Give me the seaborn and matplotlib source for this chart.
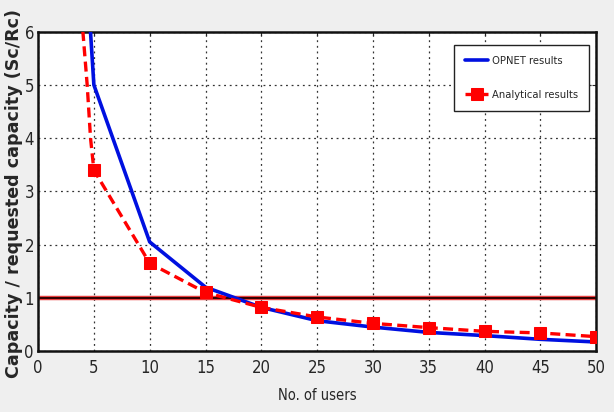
import matplotlib
matplotlib.use("Agg")
import matplotlib.pyplot as plt
import seaborn as sns
import pandas as pd

# OPNET simulation results (capacity / requested capacity)
opnet_users = [4.0, 5, 10, 15, 20, 25, 30, 35, 40, 45, 50]
opnet_ratio = [8.3, 5.0, 2.05, 1.2, 0.82, 0.57, 0.45, 0.35, 0.29, 0.22, 0.17]

# Analytical results; curve points plus marked points every 5 users
analytic_users = [3.9, 4.4, 4.7, 5, 10, 15, 20, 25, 30, 35, 40, 45, 50]
analytic_ratio = [6.3, 5.0, 4.0, 3.4, 1.65, 1.1, 0.82, 0.64, 0.52, 0.44, 0.37, 0.34, 0.27]
marker_users = [5, 10, 15, 20, 25, 30, 35, 40, 45, 50]

x_ticks = list(range(0, 51, 5))
y_ticks = list(range(0, 7))

sns.set_style("white")
plt.rcParams["font.family"] = ["DejaVu Sans"]
plt.rcParams["font.stretch"] = "condensed"

fig = plt.figure(figsize=(6.14, 4.12), dpi=100, facecolor="#efefef")
ax = fig.add_axes([0.062, 0.148, 0.909, 0.775])
ax.set_facecolor("white")

opnet = pd.DataFrame({"users": opnet_users, "ratio": opnet_ratio})
analytic = pd.DataFrame({"users": analytic_users, "ratio": analytic_ratio})

# reference level at ratio = 1
ax.axhline(1, color="#e84040", lw=3.2, zorder=2)
ax.axhline(1, color="#300000", lw=1.4, zorder=2.1)

sns.lineplot(data=opnet, x="users", y="ratio", ax=ax, color="#0010e0", lw=2.6,
             label="OPNET results", zorder=3)
sns.lineplot(data=analytic, x="users", y="ratio", ax=ax, color="#ff0000", lw=2.4,
             linestyle=(0, (3, 1.6)), marker="s", markersize=8, markerfacecolor="#ff0000",
             markeredgecolor="#ff0000",
             markevery=[analytic_users.index(u) for u in marker_users],
             label="Analytical results", zorder=4)

ax.set_xlim(0, 50)
ax.set_ylim(0, 6)
ax.set_xticks(x_ticks)
ax.set_yticks(y_ticks)
ax.tick_params(axis="both", labelsize=12, length=3, direction="in",
               top=True, right=True)
ax.tick_params(axis="x", pad=6)
ax.tick_params(axis="y", pad=3)
ax.grid(True, color="#333333", linestyle=(0, (1.5, 3)), lw=0.9)
for s in ax.spines.values():
    s.set_color("#111111")
    s.set_linewidth(1.8)

ax.set_xlabel("No. of users", fontsize=10.5, labelpad=8)
ax.set_ylabel("Capacity / requested capacity (Sc/Rc)", fontsize=12.6,
              fontweight="bold", fontstretch="normal", va="center")
ax.yaxis.set_label_coords(-0.043, 0.493)

leg = ax.legend(loc="upper right", bbox_to_anchor=(0.993, 0.97), fontsize=8,
                frameon=True, fancybox=False, framealpha=1, edgecolor="#222222",
                handlelength=2.1, handletextpad=0.3, borderpad=1.0, labelspacing=2.2,
                borderaxespad=0.3)
leg.get_frame().set_linewidth(1.0)

fig.savefig("out.png", dpi=100, facecolor=fig.get_facecolor())
